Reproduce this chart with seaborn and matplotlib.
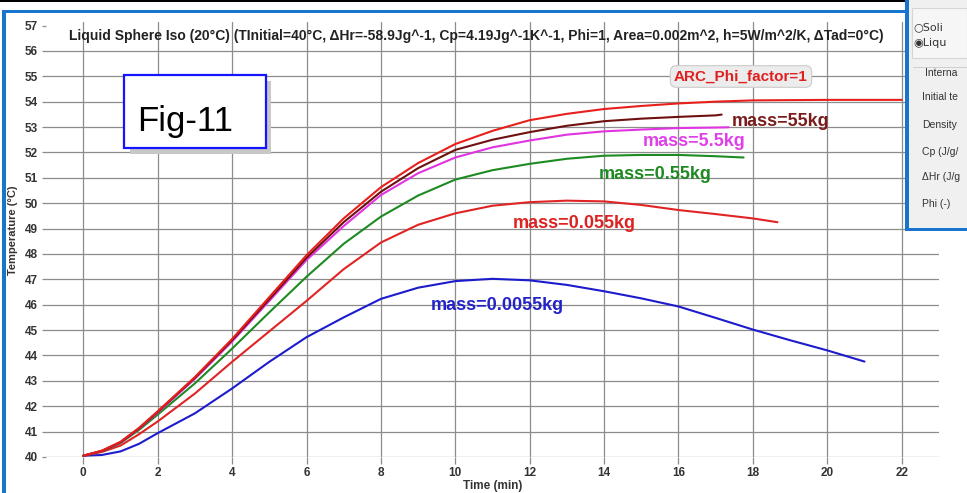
import numpy as np
import pandas as pd
import matplotlib
matplotlib.use("Agg")
import matplotlib.pyplot as plt
import seaborn as sns
from matplotlib.patches import Rectangle

# ---------------- data ----------------
t_arc = [0, 0.5, 1, 1.5] + list(range(2, 23))
temp_arc = [40.05, 40.25, 40.6, 41.15, 41.8, 43.15, 44.65, 46.3, 47.95, 49.4, 50.63, 51.58,
            52.33, 52.85, 53.27, 53.52, 53.71, 53.83, 53.93, 54.0, 54.05, 54.06, 54.07,
            54.07, 54.07]

t_55 = [0, 0.5, 1, 1.5] + list(range(2, 18)) + [17.16]
temp_55 = [40.05, 40.24, 40.58, 41.13, 41.78, 43.12, 44.6, 46.22, 47.85, 49.25, 50.45,
           51.38, 52.1, 52.5, 52.8, 53.05, 53.23, 53.33, 53.4, 53.46, 53.49]

t_5_5 = [0, 0.5, 1, 1.5] + list(range(2, 18)) + [17.35]
temp_5_5 = [40.05, 40.24, 40.57, 41.12, 41.75, 43.08, 44.55, 46.15, 47.76, 49.1, 50.32,
            51.18, 51.8, 52.2, 52.47, 52.7, 52.83, 52.9, 52.96, 52.98, 52.99]

t_0_55 = [0, 0.5, 1, 1.5] + list(range(2, 18)) + [17.75]
temp_0_55 = [40.05, 40.23, 40.55, 41.07, 41.67, 42.9, 44.27, 45.7, 47.1, 48.4, 49.47,
             50.3, 50.93, 51.3, 51.55, 51.75, 51.87, 51.9, 51.9, 51.85, 51.8]

t_0_055 = [0, 0.5, 1, 1.5] + list(range(2, 19)) + [18.66]
temp_0_055 = [40.05, 40.2, 40.45, 40.9, 41.4, 42.5, 43.75, 44.95, 46.15, 47.4, 48.45,
              49.15, 49.6, 49.9, 50.04, 50.1, 50.07, 49.93, 49.73, 49.57, 49.4, 49.25]

t_0_0055 = [0, 0.5, 1, 1.5] + list(range(2, 22))
temp_0_0055 = [40.05, 40.08, 40.22, 40.52, 40.94, 41.72, 42.7, 43.75, 44.72, 45.5, 46.23,
               46.67, 46.93, 47.02, 46.96, 46.78, 46.53, 46.25, 45.93, 45.48, 45.02, 44.6,
               44.2, 43.76]

series_names = ["mass=0.0055kg", "mass=0.055kg", "mass=0.55kg", "mass=5.5kg",
                "mass=55kg", "ARC_Phi_factor=1"]
series_times = [t_0_0055, t_0_055, t_0_55, t_5_5, t_55, t_arc]
series_temps = [temp_0_0055, temp_0_055, temp_0_55, temp_5_5, temp_55, temp_arc]
line_colors = ["#1c1ccc", "#e02424", "#1e8a22", "#e034e0", "#6e1010", "#e8201c"]

x_ticks = list(range(0, 23, 2))
y_ticks = list(range(40, 58))

title_text = ("Liquid Sphere Iso (20°C) (TInitial=40°C, ΔHr=-58.9Jg^-1, Cp=4.19Jg^-1K^-1, "
              "Phi=1, Area=0.002m^2, h=5W/m^2/K, ΔTad=0°C)")

# ---------------- figure ----------------
sns.set_theme(style="white")
plt.rcParams["font.family"] = ["Liberation Sans", "DejaVu Sans"]

W, H = 967, 493
fig = plt.figure(figsize=(W / 100, H / 100), dpi=100)
fig.patch.set_facecolor("white")


def fx(px):
    return px / W


def fy(py):
    return 1 - py / H


ax = fig.add_axes([fx(46.1), fy(457), 892.8 / W, 435.3 / H])
ax.set_facecolor("white")

df = pd.concat(
    [pd.DataFrame({"time": t, "temp": v, "series": n})
     for n, t, v in zip(series_names, series_times, series_temps)],
    ignore_index=True)

sns.lineplot(data=df, x="time", y="temp", hue="series", hue_order=series_names,
             palette=dict(zip(series_names, line_colors)), estimator=None, sort=False,
             linewidth=1.5, legend=False, ax=ax, zorder=3)

ax.set_xlim(-1, 23)
ax.set_ylim(40, 57.15)
ax.set_xticks(x_ticks)
ax.set_yticks(y_ticks)
ax.grid(True, color="#8c8c8c", linewidth=0.9)
ax.set_axisbelow(True)
ax.yaxis.get_gridlines()[-1].set_visible(False)
for s in ax.spines.values():
    s.set_visible(False)
ax.tick_params(axis="x", bottom=True, length=5, width=0.9, color="#8c8c8c", pad=2,
               labelsize=8.5, labelcolor="#333333")
ax.tick_params(axis="y", left=True, length=3, width=0.9, color="#8c8c8c", pad=3,
               labelsize=8.5, labelcolor="#333333")
plt.setp(ax.get_xticklabels(), fontweight="bold")
plt.setp(ax.get_yticklabels(), fontweight="bold")

ax.set_xlabel("Time (min)", fontsize=8.5, fontweight="bold", color="#333333", labelpad=1)
ax.set_ylabel("Temperature (°C)", fontsize=8, fontweight="bold", color="#333333")
ax.yaxis.set_label_coords(-0.031, 0.52)

# chart title inside plot
fig.text(fx(476.5), fy(36), title_text, ha="center", va="center", fontsize=10,
         fontweight="bold", color="#222222")

# curve labels
fig.text(fx(741), fy(76.5), "ARC_Phi_factor=1", ha="center", va="center", fontsize=11,
         fontweight="bold", color="#e02020",
         bbox=dict(boxstyle="round,pad=0.25,rounding_size=0.4", fc="#ececec", ec="#cccccc", lw=0.8))
fig.text(fx(781), fy(121), "mass=55kg", ha="center", va="center", fontsize=13,
         fontweight="bold", color="#7a1c1c")
fig.text(fx(694), fy(141), "mass=5.5kg", ha="center", va="center", fontsize=13,
         fontweight="bold", color="#e040e8")
fig.text(fx(654.7), fy(174.5), "mass=0.55kg", ha="center", va="center", fontsize=13,
         fontweight="bold", color="#1f8a23")
fig.text(fx(574), fy(224), "mass=0.055kg", ha="center", va="center", fontsize=13,
         fontweight="bold", color="#dd2222")
fig.text(fx(497.5), fy(305.5), "mass=0.0055kg", ha="center", va="center", fontsize=13,
         fontweight="bold", color="#2323c8")


# Fig-11 box with shadow
def prect(x0, y0, x1, y1, **kw):
    r = Rectangle((fx(x0), fy(y1)), fx(x1) - fx(x0), fy(y0) - fy(y1),
                  transform=fig.transFigure, **kw)
    fig.add_artist(r)
    return r


prect(130, 81, 271, 154, fc="#c8c8c8", ec="none", zorder=5)
prect(124.3, 75, 265.7, 147.7, fc="white", ec="#1414ff", lw=1.6, zorder=6)
fig.text(fx(185), fy(131.5), "Fig-11", ha="center", va="baseline", fontsize=25,
         color="black", zorder=7)

# outer screenshot frame
prect(0, 0, 906, 2, fc="black", ec="none", zorder=8)
prect(2, 9.5, 906, 12.5, fc="#1874cd", ec="none", zorder=8)
prect(2, 9.5, 6, 493, fc="#1874cd", ec="none", zorder=8)

# side panel (partially visible window)
prect(906, 0, 967, 231, fc="#f0f0f0", ec="none", zorder=8)
prect(912, 8, 967, 58, fc="#f6f6f6", ec="#d6d6d6", lw=0.8, zorder=8)
prect(913, 67, 967, 67.8, fc="#cfcfcf", ec="none", zorder=8)
prect(905, 0, 909, 231, fc="#1874cd", ec="none", zorder=9)
prect(905, 227.5, 967, 231, fc="#1874cd", ec="none", zorder=9)
fig.text(fx(913), fy(27), "○Soli", ha="left", va="center", fontsize=8, color="#333333",
         family=["DejaVu Sans"], zorder=10)
fig.text(fx(913), fy(43), "◉Liqu", ha="left", va="center", fontsize=8, color="#333333",
         family=["DejaVu Sans"], zorder=10)
panel_labels = ["Interna", "Initial te", "Density", "Cp (J/g/", "ΔHr (J/g", "Phi (-)"]
panel_ys = [73, 97, 125, 152, 177, 204]
panel_xs = [925, 922.5, 922.5, 922.5, 922.5, 922.5]
for lbl, px, py in zip(panel_labels, panel_xs, panel_ys):
    fig.text(fx(px), fy(py), lbl, ha="left", va="center", fontsize=7.5, color="#333333",
             zorder=10)

fig.savefig("out.png", dpi=100)
